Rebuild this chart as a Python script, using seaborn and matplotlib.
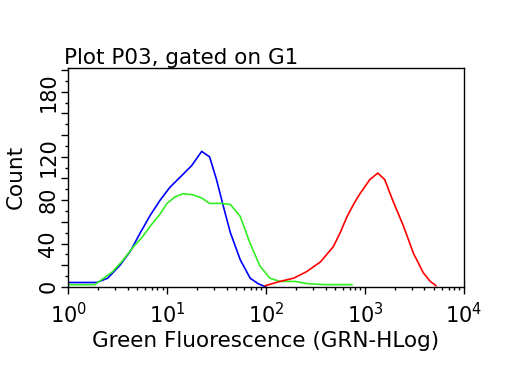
import numpy as np
import pandas as pd
import matplotlib.pyplot as plt
import seaborn as sns

# histogram traces (log10 of fluorescence, count)
blue_logx = [0.0, 0.29, 0.40, 0.525, 0.63, 0.73, 0.83, 0.93, 1.03, 1.13, 1.25, 1.35, 1.43, 1.50, 1.57, 1.64, 1.74, 1.84, 1.92, 1.97, 2.0]
blue_cnt = [4, 4, 8, 20, 33, 50, 66, 80, 92, 101, 112, 125, 120, 99, 74, 50, 25, 8, 3, 1, 0]

green_logx = [0.0, 0.27, 0.45, 0.55, 0.66, 0.75, 0.83, 0.92, 1.0, 1.08, 1.16, 1.26, 1.35, 1.43, 1.55, 1.64, 1.74, 1.84, 1.94, 2.04, 2.14, 2.30, 2.41, 2.60, 2.87]
green_cnt = [2, 2, 14, 24, 37, 46, 56, 66, 77, 83, 86, 85, 82, 77, 77, 76, 65, 40, 19, 8, 5, 5, 3, 2, 2]

red_logx = [1.99, 2.14, 2.28, 2.41, 2.55, 2.68, 2.75, 2.82, 2.89, 2.95, 3.05, 3.13, 3.20, 3.28, 3.39, 3.49, 3.59, 3.66, 3.72]
red_cnt = [1, 5, 8, 14, 23, 37, 50, 65, 77, 86, 99, 105, 99, 80, 56, 31, 13, 5, 1]

df = pd.concat([
    pd.DataFrame({'x': np.power(10.0, blue_logx), 'Count': blue_cnt, 'trace': 'blue'}),
    pd.DataFrame({'x': np.power(10.0, green_logx), 'Count': green_cnt, 'trace': 'green'}),
    pd.DataFrame({'x': np.power(10.0, red_logx), 'Count': red_cnt, 'trace': 'red'}),
])

sns.set_style('white')
plt.rcParams['font.family'] = ['DejaVu Sans']
plt.rcParams['text.color'] = 'black'
plt.rcParams['axes.labelcolor'] = 'black'
plt.rcParams['xtick.color'] = 'black'
plt.rcParams['ytick.color'] = 'black'

fig = plt.figure(figsize=(5.12, 3.84), dpi=100)
ax = fig.add_axes([0.133, 0.253, 0.773, 0.570])

sns.lineplot(data=df, x='x', y='Count', hue='trace', sort=False, legend=False,
             palette={'blue': '#0000ff', 'green': '#33ee22', 'red': '#ff0000'},
             linewidth=1.2, ax=ax)

ax.set_xscale('log')
ax.set_xlim(1, 1e4)
ax.set_ylim(0, 202)

ax.set_xticks([1, 10, 100, 1000, 10000])
ax.set_xticklabels(['$\\mathregular{10^0}$', '$\\mathregular{10^1}$', '$\\mathregular{10^2}$',
                    '$\\mathregular{10^3}$', '$\\mathregular{10^4}$'], fontsize=15)
ax.xaxis.set_minor_locator(plt.matplotlib.ticker.LogLocator(base=10, subs=np.arange(2, 10)))
ax.xaxis.set_minor_formatter(plt.NullFormatter())

yt = np.arange(0, 201, 20)
ax.set_yticks(yt)
ax.set_yticklabels(['0', '', '40', '', '80', '', '120', '', '', '180', ''],
                   rotation=90, va='center', fontsize=15)
ax.set_yticks(np.arange(10, 201, 20), minor=True)

ax.tick_params(axis='both', which='both', bottom=True, left=True, top=False, right=False)
ax.tick_params(axis='both', which='major', direction='out', length=5, width=1, color='black', pad=2)
ax.tick_params(axis='both', which='minor', direction='out', length=2.5, width=1, color='black')
ax.tick_params(axis='x', which='major', pad=6)

for s in ax.spines.values():
    s.set_color('black')
    s.set_linewidth(1)

ax.set_xlabel('Green Fluorescence (GRN-HLog)', fontsize=15.5, labelpad=3)
ax.set_ylabel('Count', fontsize=15.5, labelpad=9)
ax.set_title('Plot P03, gated on G1', loc='left', fontsize=15.5, pad=3, x=-0.01)

fig.savefig('out.png', dpi=100)
